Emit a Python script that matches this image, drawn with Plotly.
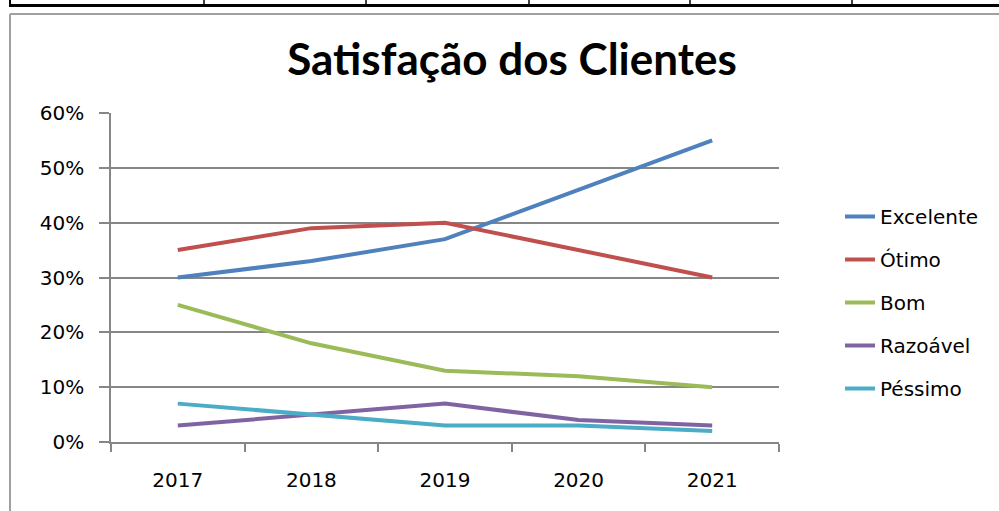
import plotly.graph_objects as go

years = ["2017", "2018", "2019", "2020", "2021"]
excelente = [0.30, 0.33, 0.37, 0.46, 0.55]
otimo = [0.35, 0.39, 0.40, 0.35, 0.30]
bom = [0.25, 0.18, 0.13, 0.12, 0.10]
razoavel = [0.03, 0.05, 0.07, 0.04, 0.03]
pessimo = [0.07, 0.05, 0.03, 0.03, 0.02]

series_names = ["Excelente", "Ótimo", "Bom", "Razoável", "Péssimo"]
series_values = [excelente, otimo, bom, razoavel, pessimo]
colors = ["#4F81BD", "#C0504D", "#9BBB59", "#8064A2", "#4BACC6"]

W, H = 999, 511
L, R, T, B = 111, 779, 113, 442
pw, ph = R - L, B - T


def px(x):
    return (x - L) / pw


def py(y):
    return (B - y) / ph


fig = go.Figure()
for i, (name, vals, col) in enumerate(zip(series_names, series_values, colors)):
    fig.add_trace(go.Scatter(
        x=years, y=vals, name=name, mode="lines",
        line=dict(color=col, width=4),
        legendgroup=f"g{i}",
    ))

shapes = []
# chart border (gray)
shapes.append(dict(type="line", xref="paper", yref="paper",
                   x0=px(10), x1=px(1005), y0=py(14), y1=py(14),
                   line=dict(color="#A0A0A0", width=2)))
shapes.append(dict(type="line", xref="paper", yref="paper",
                   x0=px(10), x1=px(10), y0=py(14), y1=py(520),
                   line=dict(color="#A0A0A0", width=2)))
# table border at the top (black)
shapes.append(dict(type="rect", xref="paper", yref="paper",
                   x0=px(9), x1=px(1005), y0=py(7), y1=py(4),
                   fillcolor="#000000", line=dict(width=0)))
for xv in [10, 204, 366, 529, 690, 852]:
    shapes.append(dict(type="line", xref="paper", yref="paper",
                       x0=px(xv), x1=px(xv), y0=py(-5), y1=py(5),
                       line=dict(color="#000000", width=2 if xv == 10 else 1.5)))

fig.update_layout(
    width=W, height=H,
    margin=dict(l=L, r=W - R, t=T, b=H - B, pad=0),
    paper_bgcolor="white", plot_bgcolor="white",
    title=dict(text="<b>Satisfação dos Clientes</b>", x=px(512), xref="paper",
               xanchor="center", y=1 - 60 / H, yanchor="middle",
               font=dict(family="Lato", size=44, color="#000000")),
    font=dict(family="DejaVu Sans", size=20, color="#000000"),
    xaxis=dict(
        type="category", range=[-0.5, 4.5], tickson="boundaries",
        showline=True, linecolor="#868686", linewidth=1.5,
        ticks="outside", ticklen=8, tickcolor="#868686", tickwidth=1.5,
        showgrid=False, zeroline=False, ticklabelstandoff=19,
        tickfont=dict(family="DejaVu Sans", size=20, color="#000000"),
    ),
    yaxis=dict(
        range=[0, 0.6], dtick=0.1, tickformat=".0%",
        showline=True, linecolor="#868686", linewidth=1.5,
        ticks="outside", ticklen=10, tickcolor="#868686", tickwidth=1.5,
        showgrid=True, gridcolor="#868686", gridwidth=1.5,
        zeroline=False, ticklabelstandoff=11,
        tickfont=dict(family="DejaVu Sans", size=20, color="#000000"),
    ),
    legend=dict(
        x=px(840), xanchor="left", y=py(197), yanchor="top",
        font=dict(family="DejaVu Sans", size=20, color="#000000"),
        tracegroupgap=14, bgcolor="rgba(0,0,0,0)", borderwidth=0,
    ),
    showlegend=True,
    shapes=shapes,
)

fig.write_html(
    "out.html",
    config={"displayModeBar": False},
    post_script="document.body.style.margin='0';document.body.style.overflow='hidden';",
)
